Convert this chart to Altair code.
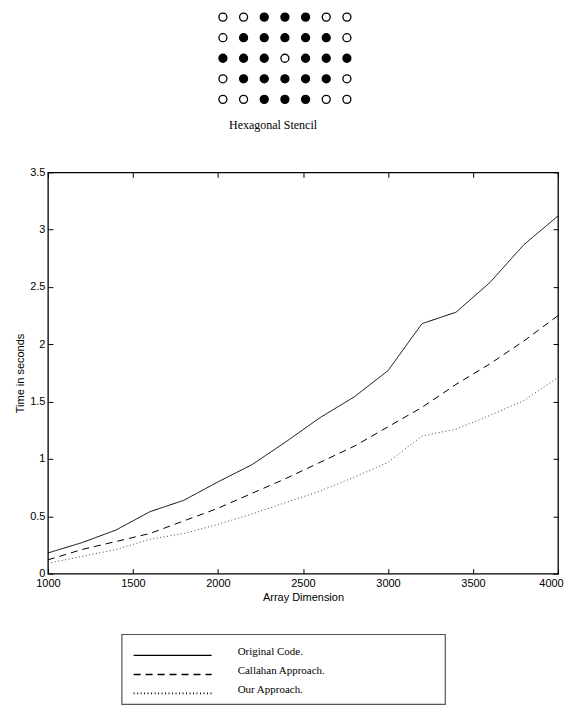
import altair as alt
import pandas as pd

# ---------------- data ----------------
array_sizes = [1000, 1200, 1400, 1600, 1800, 2000, 2200, 2400,
               2600, 2800, 3000, 3200, 3400, 3600, 3800, 4000]
original_code = [0.18, 0.27, 0.38, 0.54, 0.64, 0.80, 0.95, 1.15,
                 1.36, 1.54, 1.77, 2.18, 2.28, 2.54, 2.87, 3.12]
callahan = [0.12, 0.21, 0.28, 0.35, 0.46, 0.57, 0.70, 0.83,
            0.97, 1.11, 1.28, 1.45, 1.65, 1.83, 2.03, 2.25]
our_approach = [0.09, 0.15, 0.21, 0.30, 0.35, 0.43, 0.52, 0.62,
                0.72, 0.84, 0.97, 1.20, 1.26, 1.38, 1.51, 1.71]
series_names = ["Original Code.", "Callahan Approach.", "Our Approach."]

x_ticks = [1000, 1500, 2000, 2500, 3000, 3500, 4000]
y_ticks = [0, 0.5, 1, 1.5, 2, 2.5, 3, 3.5]

stencil_pattern = [
    [0, 0, 1, 1, 1, 0, 0],
    [0, 1, 1, 1, 1, 1, 0],
    [1, 1, 1, 0, 1, 1, 1],
    [0, 1, 1, 1, 1, 1, 0],
    [0, 0, 1, 1, 1, 0, 0],
]

# ---------------- styles / layout ----------------
W, H = 511, 402
SANS = "Liberation Sans"
SERIF = "Liberation Serif"
line_dashes = [[1, 0], [7, 5], [1, 2.5]]
line_colors = ["black", "black", "#444444"]
legend_dashes = [[1, 0], [4, 2], [1, 2]]
legend_widths = [1.3, 1.8, 1.0]

# ---------------- tables ----------------
df = pd.DataFrame({
    "size": array_sizes * 3,
    "time": original_code + callahan + our_approach,
    "series": sum([[s] * len(array_sizes) for s in series_names], []),
})

sten = pd.DataFrame([
    {"col": c, "row": r, "state": "filled" if v else "open"}
    for r, row in enumerate(stencil_pattern) for c, v in enumerate(row)
])

legend_df = pd.DataFrame({
    "label": series_names,
    "x0": [0.168] * 3,
    "x1": [0.321] * 3,
    "tx": [0.372] * 3,
})
box_df = pd.DataFrame({"x0": [0.145], "x1": [0.779]})

# ---------------- stencil panel ----------------
stencil = alt.Chart(sten).mark_point(
    shape="circle", filled=True, size=64, stroke="black", strokeWidth=1.3, opacity=1
).encode(
    x=alt.X("col:Q", scale=alt.Scale(domain=[0, 6], range=[175.3, 299.5]), axis=None),
    y=alt.Y("row:Q", scale=alt.Scale(domain=[0, 4], range=[7.5, 89.9]), axis=None),
    fill=alt.Fill("state:N", scale=alt.Scale(domain=["filled", "open"], range=["black", "white"]),
                  legend=None),
).properties(
    width=W, height=102,
    title=alt.TitleParams("Hexagonal Stencil", orient="bottom", anchor="middle", dx=-30,
                          offset=9, font=SERIF, fontSize=12, fontWeight="normal", color="black"),
)

# ---------------- main plot ----------------
xs = alt.Scale(domain=[1000, 4000], nice=False, zero=False)
ys = alt.Scale(domain=[0, 3.5], nice=False, zero=False)

common_axis = dict(labelFont=SANS, labelFontSize=11, labelColor="black",
                   titleFont=SANS, titleFontSize=11, titleFontWeight="normal",
                   titleColor="black", grid=False, tickColor="black")

lines = alt.Chart(df).mark_line(strokeWidth=1).encode(
    x=alt.X("size:Q", scale=xs, axis=alt.Axis(
        orient="bottom", values=x_ticks, format="d", ticks=False, tickSize=0, domain=False,
        labelPadding=4, labelFlush=False, labelOverlap=False, title="Array Dimension",
        labelOffset={"condition": {"test": "datum.value == 4000", "value": -7}, "value": 0},
        titlePadding=3, **common_axis)),
    y=alt.Y("time:Q", scale=ys, axis=alt.Axis(
        orient="left", values=y_ticks, format="~g", ticks=False, tickSize=0, domain=False,
        labelPadding=3, labelOverlap=False, title="Time in seconds", titlePadding=4,
        **common_axis)),
    strokeDash=alt.StrokeDash("series:N", scale=alt.Scale(domain=series_names, range=line_dashes),
                              legend=None),
    color=alt.Color("series:N", scale=alt.Scale(domain=series_names, range=line_colors),
                    legend=None),
)

ticks_bl = alt.Chart(df).mark_point(opacity=0).encode(
    x=alt.X("size:Q", scale=xs, axis=alt.Axis(
        orient="bottom", values=x_ticks, labels=False, domain=False, tickSize=5, offset=-5,
        tickWidth=1, title=None, **common_axis)),
    y=alt.Y("time:Q", scale=ys, axis=alt.Axis(
        orient="left", values=y_ticks, labels=False, domain=False, tickSize=5, offset=-5,
        tickWidth=1, title=None, **common_axis)),
)

ticks_tr = alt.Chart(df).mark_point(opacity=0).encode(
    x=alt.X("size:Q", scale=xs, axis=alt.Axis(
        orient="top", values=x_ticks, labels=False, domain=False, tickSize=5, offset=-5,
        tickWidth=1, title=None, **common_axis)),
    y=alt.Y("time:Q", scale=ys, axis=alt.Axis(
        orient="right", values=y_ticks, labels=False, domain=False, tickSize=5, offset=-5,
        tickWidth=1, title=None, **common_axis)),
)

main = alt.layer(lines, ticks_bl, ticks_tr).resolve_scale(
    x="independent", y="independent"
).resolve_axis(
    x="independent", y="independent"
).properties(
    width=W, height=H, view=alt.ViewBackground(stroke="black", strokeWidth=1.3)
)

# ---------------- legend panel ----------------
lx = alt.Scale(domain=[0, 1], nice=False, zero=False)
ly = alt.Scale(type="point", domain=series_names, padding=0.842)

box = alt.Chart(box_df).mark_rect(fill="white", stroke="#555555", strokeWidth=1.2).encode(
    x=alt.X("x0:Q", scale=lx, axis=None),
    x2="x1:Q",
)
leg_lines = alt.Chart(legend_df).mark_rule(color="black", yOffset=5).encode(
    x=alt.X("x0:Q", scale=lx, axis=None),
    x2="x1:Q",
    y=alt.Y("label:N", scale=ly, axis=None),
    strokeDash=alt.StrokeDash("label:N", scale=alt.Scale(domain=series_names, range=legend_dashes),
                              legend=None),
    strokeWidth=alt.StrokeWidth("label:N", scale=alt.Scale(domain=series_names, range=legend_widths),
                                legend=None),
)
leg_text = alt.Chart(legend_df).mark_text(
    align="left", baseline="middle", font=SERIF, fontSize=11, color="black", dy=2
).encode(
    x=alt.X("tx:Q", scale=lx, axis=None),
    y=alt.Y("label:N", scale=ly, axis=None),
    text="label:N",
)
legend_panel = alt.layer(box, leg_lines, leg_text).properties(width=W, height=70)

chart = alt.vconcat(stencil, main, legend_panel, spacing=61, bounds="flush").properties(
    padding={"left": 6, "top": 0, "right": 0, "bottom": 0}
).configure_view(stroke="transparent")

chart.save("out.html", embed_options={"renderer": "svg", "actions": False})
